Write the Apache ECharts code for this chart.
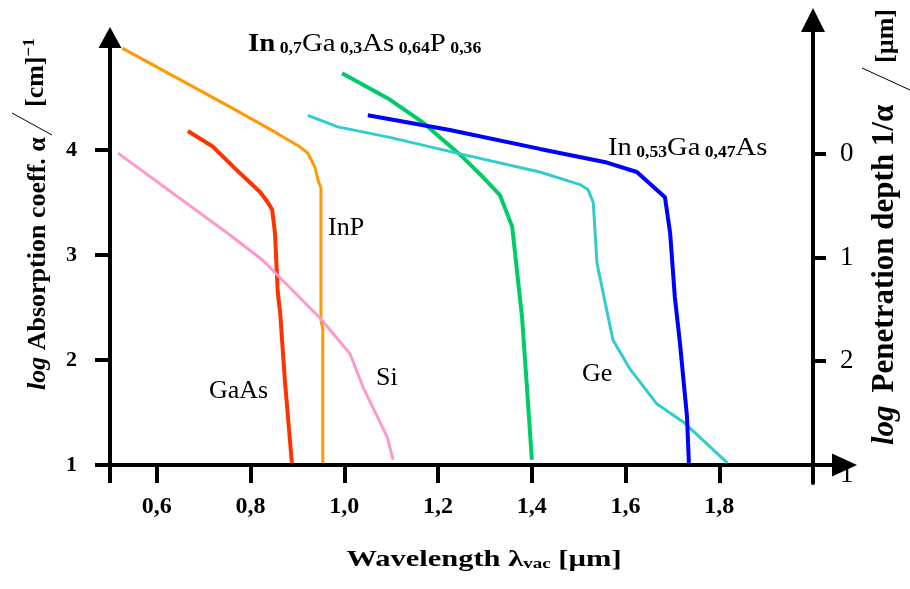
<!DOCTYPE html>
<html>
<head>
<meta charset="utf-8">
<script src="https://cdn.jsdelivr.net/npm/echarts@6.0.0/dist/echarts.min.js"></script>
<style>
  html, body { margin: 0; padding: 0; background: #fff; }
  #chart { width: 910px; height: 589px; }
</style>
</head>
<body>
<div id="chart"></div>
<script>
var FONT = 'Liberation Serif';

// axis ticks and labels
var xTickValues = [0.5, 0.6, 0.8, 1.0, 1.2, 1.4, 1.6, 1.8, 2.0];
var xLabelValues = [0.6, 0.8, 1.0, 1.2, 1.4, 1.6, 1.8];
var leftTickValues = [1, 2, 3, 4];
var rightTickValues = [0, 1, 2];
var rightLabelValues = [0, 1, 2, 3.1];
var rightLabelTexts = ['0', '1', '2', '1'];

// curves: wavelength [um] / log absorption
var inpX = [0.526, 0.756, 0.856, 0.905, 0.922, 0.937, 0.944, 0.950, 0.950, 0.954, 0.954];
var inpY = [4.97, 4.41, 4.16, 4.03, 3.97, 3.84, 3.71, 3.64, 2.38, 2.29, 1.02];

var gaasX = [0.666, 0.720, 0.777, 0.820, 0.837, 0.846, 0.852, 0.858, 0.863, 0.873, 0.888];
var gaasY = [4.18, 4.03, 3.78, 3.60, 3.50, 3.43, 3.21, 2.64, 2.45, 1.81, 1.02];

var siX = [0.517, 0.756, 0.826, 0.948, 1.012, 1.040, 1.091, 1.104];
var siY = [3.97, 3.19, 2.95, 2.40, 2.06, 1.74, 1.27, 1.05];

var ingaaspX = [0.995, 1.097, 1.168, 1.253, 1.296, 1.332, 1.358, 1.368, 1.379, 1.390, 1.400];
var ingaaspY = [4.73, 4.48, 4.26, 3.93, 3.74, 3.57, 3.27, 2.86, 2.41, 1.71, 1.05];

var geX = [0.922, 0.986, 1.097, 1.240, 1.417, 1.503, 1.520, 1.531, 1.539, 1.573, 1.610, 1.667, 1.723, 1.817];
var geY = [4.33, 4.22, 4.12, 3.97, 3.79, 3.67, 3.62, 3.50, 2.92, 2.19, 1.91, 1.58, 1.41, 1.02];

var ingaasX = [1.050, 1.225, 1.417, 1.560, 1.624, 1.684, 1.695, 1.705, 1.716, 1.731, 1.735];
var ingaasY = [4.33, 4.19, 4.01, 3.88, 3.79, 3.55, 3.21, 2.60, 2.16, 1.46, 1.02];

function pairs(xs, ys) {
  return xs.map(function (x, i) { return [x, ys[i]]; });
}

function curve(name, xs, ys, color, width) {
  return {
    name: name,
    type: 'line',
    xAxisIndex: 0,
    yAxisIndex: 0,
    data: pairs(xs, ys),
    showSymbol: false,
    symbol: 'none',
    silent: true,
    lineStyle: { color: color, width: width },
    z: 2
  };
}

var axisLine = function (size) {
  return {
    show: true,
    onZero: false,
    symbol: ['none', 'triangle'],
    symbolSize: size,
    lineStyle: { color: '#000', width: 4 }
  };
};

var richText = {
  m: { fontFamily: FONT, fontSize: 26, color: '#000' },
  mb: { fontFamily: FONT, fontSize: 26, fontWeight: 'bold', color: '#000' },
  sub: { fontFamily: FONT, fontSize: 16, fontWeight: 'bold', color: '#000', padding: [10, 0, 0, 0] },
  b: { fontFamily: FONT, fontSize: 26, fontWeight: 'bold', color: '#000' },
  i: { fontFamily: FONT, fontSize: 26, fontWeight: 'bold', fontStyle: 'italic', color: '#000' },
  b30: { fontFamily: FONT, fontSize: 31, fontWeight: 'bold', color: '#000' },
  i30: { fontFamily: FONT, fontSize: 31, fontWeight: 'bold', fontStyle: 'italic', color: '#000' },
  sup: { fontFamily: FONT, fontSize: 17, fontWeight: 'bold', color: '#000', padding: [0, 0, 12, 0] },
  xb: { fontFamily: FONT, fontSize: 24, fontWeight: 'bold', color: '#000' },
  xsub: { fontFamily: FONT, fontSize: 15, fontWeight: 'bold', color: '#000', padding: [9, 0, 0, 0] }
};

function label(text, x, y, extra) {
  var el = {
    type: 'text',
    x: x,
    y: y,
    silent: true,
    style: {
      text: text,
      fontFamily: FONT,
      fontSize: 26,
      fill: '#000',
      align: 'left',
      verticalAlign: 'middle',
      rich: richText
    }
  };
  if (extra) {
    for (var k in extra) {
      if (k === 'align') el.style.align = extra[k];
      else el[k] = extra[k];
    }
  }
  return el;
}

var chart = echarts.init(document.getElementById('chart'), null, { renderer: 'canvas' });

var option = {
  backgroundColor: '#fff',
  animation: false,
  grid: [
    { left: 110, right: 65.5, top: 37.5, bottom: 124, outerBoundsMode: 'none', containLabel: false },
    { left: 110, right: 97, top: 20, bottom: 106, outerBoundsMode: 'none', containLabel: false }
  ],
  xAxis: [
    {
      type: 'value',
      gridIndex: 0,
      min: 0.5,
      max: 2.067,
      position: 'bottom',
      axisLine: axisLine([23, 25]),
      axisTick: {
        show: true,
        customValues: xTickValues,
        length: 18,
        lineStyle: { color: '#000', width: 4 }
      },
      axisLabel: {
        show: true,
        customValues: xLabelValues,
        margin: 30,
        verticalAlign: 'top',
        fontFamily: FONT,
        fontSize: 24,
        fontWeight: 'bold',
        color: '#000',
        formatter: function (v) { return v.toFixed(1).replace('.', ','); }
      },
      splitLine: { show: false }
    },
    {
      type: 'value',
      gridIndex: 1,
      min: 0.5,
      max: 2.0,
      show: false
    }
  ],
  yAxis: [
    {
      type: 'value',
      gridIndex: 0,
      min: 1,
      max: 5.071,
      position: 'left',
      axisLine: axisLine([23, 21]),
      axisTick: {
        show: true,
        customValues: leftTickValues,
        length: 15,
        lineStyle: { color: '#000', width: 4 }
      },
      axisLabel: {
        show: true,
        customValues: leftTickValues,
        margin: 33,
        fontFamily: FONT,
        fontSize: 22,
        fontWeight: 'bold',
        color: '#000'
      },
      splitLine: { show: false }
    },
    {
      type: 'value',
      gridIndex: 1,
      inverse: true,
      min: -1.295,
      max: 3.18,
      position: 'right',
      axisLine: axisLine([24, 24]),
      axisTick: {
        show: true,
        customValues: rightTickValues,
        length: 13,
        lineStyle: { color: '#000', width: 4 }
      },
      axisLabel: {
        show: true,
        customValues: rightLabelValues,
        margin: 27,
        fontFamily: FONT,
        fontSize: 27,
        color: '#000',
        formatter: function (v) {
          for (var i = 0; i < rightLabelValues.length; i++) {
            if (Math.abs(rightLabelValues[i] - v) < 0.01) return rightLabelTexts[i];
          }
          return '';
        }
      },
      splitLine: { show: false }
    }
  ],
  graphic: [
    // curve labels
    label('{mb|In}{sub| 0,7}{m|Ga}{sub| 0,3}{m|As}{sub| 0,64}{m|P}{sub| 0,36}', 248, 44, { scaleX: 1.11 }),
    label('InP', 328, 228),
    label('GaAs', 209, 391),
    label('Si', 376, 378),
    label('Ge', 582, 374),
    label('{m|In}{sub| 0,53}{m|Ga}{sub| 0,47}{m|As}', 608, 148, { scaleX: 1.1 }),

    // x axis title
    label('{xb|Wavelength λ}{xsub|vac}{xb| [µm]}', 484, 560, { align: 'center', scaleX: 1.27 }),

    // left axis title
    label('{i|log} {b|Absorption coeff. α}', 38, 390, { rotation: Math.PI / 2 }),
    label('{b|[cm]}{sup|−1}', 36, 107, { rotation: Math.PI / 2 }),
    { type: 'line', silent: true, shape: { x1: 12, y1: 113, x2: 52, y2: 135 }, style: { stroke: '#000', lineWidth: 1 } },

    // right axis title
    label('{i30|log}  {b30|Penetration depth 1/α}', 885, 445, { rotation: Math.PI / 2 }),
    label('{b|[µm]}', 886, 63, { rotation: Math.PI / 2 }),
    { type: 'line', silent: true, shape: { x1: 862, y1: 68, x2: 910, y2: 90 }, style: { stroke: '#000', lineWidth: 1 } }
  ],
  series: [
    curve('InP', inpX, inpY, '#FF9900', 3),
    curve('GaAs', gaasX, gaasY, '#FF3300', 4),
    curve('Si', siX, siY, '#FF99CC', 3),
    curve('InGaAsP', ingaaspX, ingaaspY, '#00CC66', 4),
    curve('Ge', geX, geY, '#33CCCC', 3),
    curve('InGaAs', ingaasX, ingaasY, '#0000FF', 4)
  ]
};

chart.setOption(option);
</script>
</body>
</html>
